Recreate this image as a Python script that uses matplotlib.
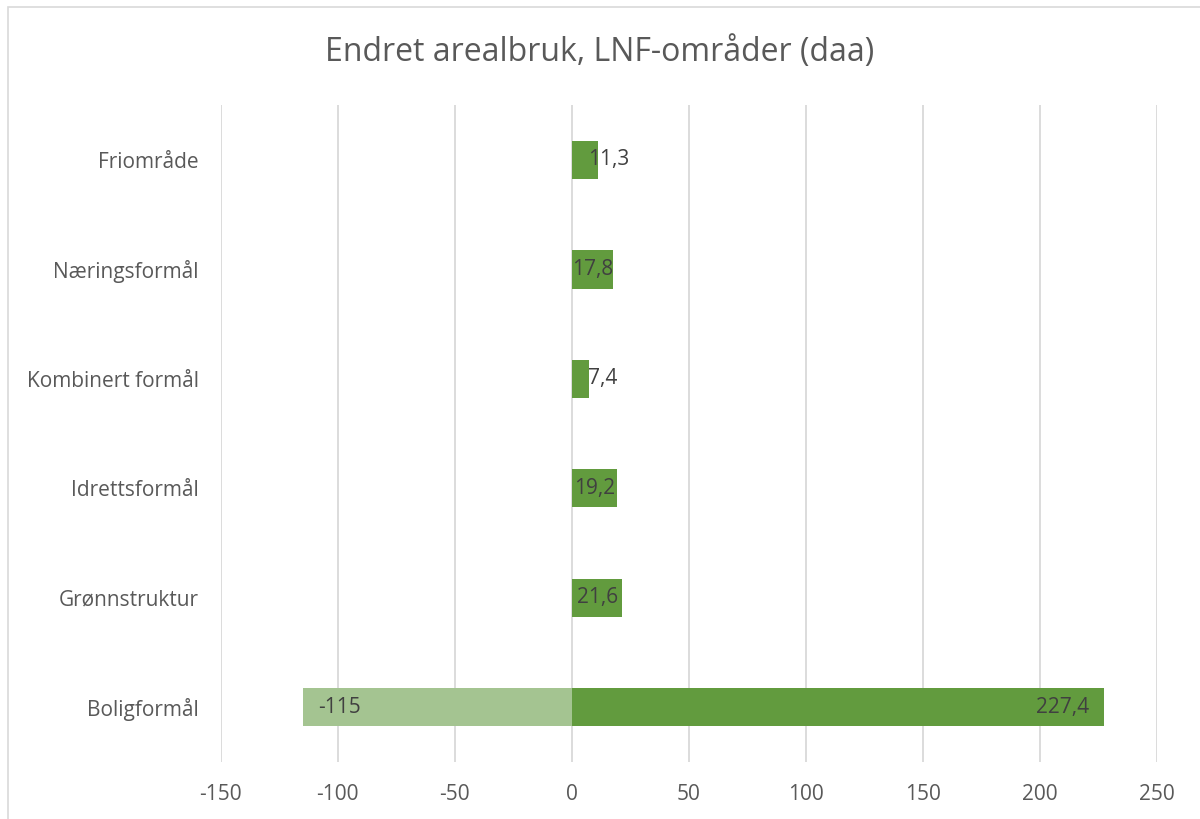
import matplotlib.pyplot as plt
from matplotlib.patches import Rectangle

categories = ["Boligformål", "Grønnstruktur", "Idrettsformål",
              "Kombinert formål", "Næringsformål", "Friområde"]
negative = [-115, 0, 0, 0, 0, 0]
positive = [227.4, 21.6, 19.2, 7.4, 17.8, 11.3]
x_ticks = [-150, -100, -50, 0, 50, 100, 150, 200, 250]

dark_green = "#629B3E"
light_green = "#A4C491"
label_col = "#404040"
tick_col = "#595959"

plt.rcParams['font.family'] = ['Open Sans', 'DejaVu Sans']

fig = plt.figure(figsize=(12, 8.19), dpi=100)
ax = fig.add_axes([0.184, 0.0696, 0.78, 0.802])

y = list(range(len(categories)))
ax.barh(y, negative, height=0.35, color=light_green, zorder=3)
ax.barh(y, positive, height=0.35, color=dark_green, zorder=3)

def fmt(v):
    return ("%g" % v).replace(".", ",")

# data labels, roughly how Excel places "inside end" labels
for i, v in enumerate(negative):
    if v != 0:
        ax.annotate(fmt(v), (v, i), xytext=(11, 0), textcoords="offset points",
                    ha="left", va="center", fontsize=15, color=label_col, zorder=4)
for i, v in enumerate(positive):
    if v >= 100:
        ax.annotate(fmt(v), (v, i), xytext=(-11, 0), textcoords="offset points",
                    ha="right", va="center", fontsize=15, color=label_col, zorder=4)
    elif v >= 15:
        ax.annotate(fmt(v), (v / 2, i), ha="center", va="center",
                    fontsize=15, color=label_col, zorder=4)
    else:
        ax.annotate(fmt(v), (0, i), xytext=(12, 0), textcoords="offset points",
                    ha="left", va="center", fontsize=15, color=label_col, zorder=4)

ax.set_xlim(-150, 250)
ax.set_ylim(-0.5, len(categories) - 0.5)
ax.set_xticks(x_ticks)
ax.set_xticklabels([str(t) for t in x_ticks])
ax.set_yticks(y)
ax.set_yticklabels(categories)
ax.tick_params(axis="both", length=0, labelsize=15, colors=tick_col)
ax.tick_params(axis="y", pad=16)
ax.tick_params(axis="x", pad=16)
ax.grid(axis="x", color="#D9D9D9", linewidth=1.3, zorder=0)
for s in ax.spines.values():
    s.set_visible(False)

fig.text(0.5, 0.936, "Endret arealbruk, LNF-områder (daa)", ha="center", va="center",
         fontsize=23, color=tick_col)

fig.patches.append(Rectangle((0.007, -0.01), 1.02, 1.0015, transform=fig.transFigure,
                             fill=False, edgecolor="#D9D9D9", linewidth=1.2))

fig.savefig("out.png", dpi=100)
